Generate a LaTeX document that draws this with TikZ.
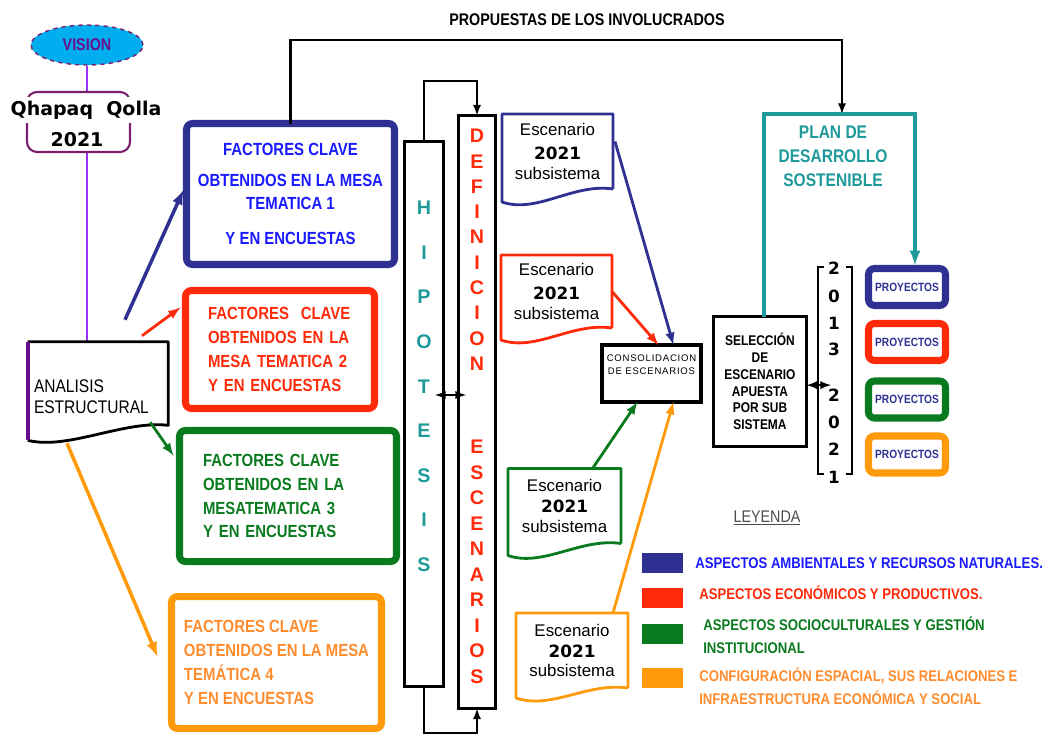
\documentclass[tikz,border=0pt]{standalone}
\usepackage{fontspec}
\setmainfont{Liberation Sans}
\newfontfamily\cond[FakeStretch=0.85]{Liberation Sans}
\newfontfamily\espaciada[LetterSpace=8]{Liberation Sans}
\newfontfamily\dejav{DejaVu Sans}
\usetikzlibrary{shapes.geometric}
\definecolor{azul}{HTML}{2E3192}
\definecolor{azultxt}{HTML}{1A1AFF}
\definecolor{rojo}{HTML}{FF2A0A}
\definecolor{verde}{HTML}{0A7A1E}
\definecolor{naranja}{HTML}{FF9A0A}
\definecolor{naranjatxt}{HTML}{FF8C2E}
\definecolor{turquesa}{HTML}{1E9A9A}
\definecolor{morado}{HTML}{9B30FF}
\definecolor{moradoosc}{HTML}{6A0D8A}
\definecolor{vino}{HTML}{7A1F6E}
\definecolor{gris}{HTML}{4D4D4D}
\tikzset{
  tam/.style 2 args={minimum width=#1*0.25mm, minimum height=#2*0.25mm},
  mesa/.style={draw, line width=5pt, rounded corners=1.5mm, inner sep=0pt, outer sep=0pt,
    font=\cond\bfseries\fontsize{12.5}{17}\selectfont},
  caja/.style={draw, inner sep=0pt, outer sep=0pt},
  esc/.style={inner sep=0pt, outer sep=0pt, align=center, font=\fontsize{12}{14}\selectfont},
  hoja/.style={line width=2pt, line join=round},
  flecha/.style={line width=2pt, -latex},
  linea/.style={line width=1.6pt},
  proy/.style={draw, line width=5pt, rounded corners=1.5mm, tam={77}{37}, inner sep=0pt,
    text=azul, font=\cond\bfseries\fontsize{8.5}{10}\selectfont},
  hipoletra/.style={text=turquesa, font=\bfseries\fontsize{14}{16}\selectfont, inner sep=0pt},
  defiletra/.style={text=rojo, font=\bfseries\fontsize{14}{16}\selectfont, inner sep=0pt},
  digito/.style={font=\dejav\bfseries\fontsize{12}{14}\selectfont, inner sep=0pt},
  leyenda/.style={anchor=west, align=left, inner sep=0pt, font=\cond\bfseries\fontsize{11}{16}\selectfont}
}
\begin{document}
\begin{tikzpicture}[x=0.25mm,y=-0.25mm]
\useasboundingbox (0,0) rectangle (1055,735);

% vision y analisis
\node[ellipse, draw=vino, dashed, line width=1pt, fill=cyan, tam={112}{40}, inner sep=0pt,
  text=moradoosc, font=\cond\bfseries\fontsize{12}{14}\selectfont] (vision) at (87,45) {VISION};
\node[tam={140}{83}, inner sep=0pt] (analisis) at (98,383.5) {};
\draw[morado, line width=1.4pt] (vision.south) -- (vision.south |- analisis.north);
\node[draw=vino, line width=1.5pt, rounded corners=2.5mm, fill=white, tam={103}{60}] (qhapaq) at (78.5,122) {};
\node[fill=white, inner xsep=1pt, inner ysep=3pt, font=\dejav\bfseries\fontsize{13.5}{15}\selectfont] (qhapaq1) at (86,110) {Qhapaq~~Qolla};
\node[fill=white, inner xsep=4pt, inner ysep=1pt, font=\dejav\bfseries\fontsize{13.5}{15}\selectfont] (qhapaq2) at (77,140) {2021};

\draw[hoja] (analisis.north west) -- (analisis.north east) -- (analisis.south east)
  .. controls +(-45,-5) and +(40,10) .. ([shift={(0,15)}]analisis.south west);
\draw[moradoosc, line width=3pt] (analisis.north west) -- ([shift={(0,15)}]analisis.south west);
\node[anchor=west, align=left, inner sep=0pt, font=\cond\fontsize{13}{15}\selectfont] (analisistxt)
  at ([shift={(6,13)}]analisis.west) {ANALISIS\\ESTRUCTURAL};

% mesas tematicas
\node[mesa, draw=azul, text=azultxt, tam={208}{141}, align=center] (mesa1) at (290.5,194)
  {FACTORES CLAVE\\[5pt]OBTENIDOS EN LA MESA\\[-1pt]TEMATICA 1\\[8pt]Y EN ENCUESTAS};
\node[mesa, draw=rojo, text=rojo, tam={189}{118}, align=left, text width=36mm] (mesa2) at (280,349.5)
  {FACTORES~~CLAVE\\OBTENIDOS EN LA\\MESA TEMATICA 2\\Y EN ENCUESTAS};
\node[mesa, draw=verde, text=verde, tam={217}{131}, align=left, text width=42.5mm] (mesa3) at (288,496)
  {FACTORES CLAVE\\OBTENIDOS EN LA\\MESATEMATICA 3\\Y EN ENCUESTAS};
\node[mesa, draw=naranja, text=naranjatxt, tam={210}{132}, align=left] (mesa4) at (276.5,662.5)
  {FACTORES CLAVE\\OBTENIDOS EN LA MESA\\TEMÁTICA 4\\Y EN ENCUESTAS};

\draw[flecha, azul, line width=2.5pt] ([shift={(27,-22)}]analisis.north) -- ([shift={(-3,-4)}]mesa1.west);
\draw[flecha, rojo] ([shift={(44,-6)}]analisis.north) -- ([shift={(-5,17)}]mesa2.north west);
\draw[flecha, verde] ([shift={(-18,-3)}]analisis.south east) -- ([shift={(-6,25)}]mesa3.north west);
\draw[flecha, naranja, line width=2.5pt] ([shift={(-31,18)}]analisis.south) -- ([shift={(-14,-6)}]mesa4.west);

% propuestas
\node[font=\cond\bfseries\fontsize{12}{14}\selectfont] (propuestas) at (587,20) {PROPUESTAS DE LOS INVOLUCRADOS};
\coordinate (propder) at (842,40);
\coordinate (propfin) at (842,114);
\draw[linea, -latex] (mesa1.north) |- (propder) -- (propfin);

% hipotesis y definicion de escenarios
\node[caja, line width=2.2pt, tam={39}{545}] (hipo) at (424,414) {};
\node[caja, line width=2.2pt, tam={37}{593}] (defi) at (477,412) {};
\foreach \l [count=\i from 0] in {H,I,P,O,T,E,S,I,S}
  \node[hipoletra] (h\i) at (424,208+44.6*\i) {\l};
\foreach \l [count=\i from 0] in {D,E,F,I,N,I,C,I,O,N}
  \node[defiletra] (d\i) at (477,136+25.3*\i) {\l};
\foreach \l [count=\i from 0] in {E,S,C,E,N,A,R,I,O,S}
  \node[defiletra] (e\i) at (477,447+25.5*\i) {\l};
\coordinate (buclesup) at (450,81);
\coordinate (bucleinf) at (450,733);
\draw[linea, -latex] (hipo.north) |- (buclesup) -| (defi.north);
\draw[linea, -latex] (hipo.south) |- (bucleinf) -| (defi.south);
\coordinate (dobleizq) at (435,395);
\coordinate (dobleder) at (466,395);
\draw[linea, latex-latex] (dobleizq) -- (dobleder);

% escenarios
\node[esc, tam={111}{75}] (esc1) at (557.5,151.5) {Escenario\\[3pt]{\dejav\bfseries 2021}\\subsistema};
\node[esc, tam={111}{73}] (esc2) at (556.5,291.5) {Escenario\\[3pt]{\dejav\bfseries 2021}\\subsistema};
\node[esc, tam={113}{75}] (esc3) at (564.5,506) {Escenario\\[1pt]{\dejav\bfseries 2021}\\subsistema};
\node[esc, tam={112}{75}] (esc4) at (572,650.5) {Escenario\\[1pt]{\dejav\bfseries 2021}\\subsistema};
\draw[hoja, azul] (esc1.south east) -- (esc1.north east) -- (esc1.north west) -- ([shift={(0,13)}]esc1.south west)
  .. controls +(35,12) and +(-40,-6) .. (esc1.south east);
\draw[hoja, rojo] (esc2.south east) -- (esc2.north east) -- (esc2.north west) -- ([shift={(0,12)}]esc2.south west)
  .. controls +(35,12) and +(-40,-6) .. (esc2.south east);
\draw[hoja, verde] (esc3.south east) -- (esc3.north east) -- (esc3.north west) -- ([shift={(0,12)}]esc3.south west)
  .. controls +(35,12) and +(-40,-6) .. (esc3.south east);
\draw[hoja, naranja] (esc4.south east) -- (esc4.north east) -- (esc4.north west) -- ([shift={(0,10)}]esc4.south west)
  .. controls +(35,12) and +(-40,-6) .. (esc4.south east);

% consolidacion y seleccion
\node[caja, line width=2.8pt, tam={99}{57}] (consol) at (651.5,373.5) {};
\node[align=center, inner sep=0pt, font=\espaciada\fontsize{6.8}{9.5}\selectfont] (consoltxt)
  at ([yshift=2.2mm]consol.center) {CONSOLIDACION\\DE ESCENARIOS};
\draw[flecha, azul] ([shift={(2,-10)}]esc1.east) -- ([shift={(22,0)}]consol.north);
\draw[flecha, rojo] (esc2.east) -- ([shift={(7,0)}]consol.north);
\draw[flecha, verde] ([shift={(28,0)}]esc3.north) -- ([shift={(-14,0)}]consol.south);
\draw[flecha, naranja] ([shift={(41,0)}]esc4.north) -- ([shift={(22,0)}]consol.south);

\node[caja, line width=2.5pt, tam={93}{130}, align=center,
  font=\cond\bfseries\fontsize{10}{12}\selectfont] (selec) at (760,381.5)
  {SELECCIÓN\\DE\\ESCENARIO\\APUESTA\\POR SUB\\SISTEMA};

% horizonte 2013 - 2021
\node[tam={34}{207}, inner sep=0pt] (corchete) at (835,370.5) {};
\draw[line width=1.5pt] ([xshift=1.5mm]corchete.north west) -- (corchete.north west)
  -- (corchete.south west) -- ([xshift=1.5mm]corchete.south west);
\draw[line width=1.5pt] ([xshift=-1.5mm]corchete.north east) -- (corchete.north east)
  -- (corchete.south east) -- ([xshift=-1.5mm]corchete.south east);
\foreach \y/\d [count=\i] in {268/2,296/0,323/1,349/3,395/2,422/0,449/2,477/1}
  \node[digito] (a\i) at (834,\y) {\d};
\coordinate (flechaanio) at (831,378);
\draw[linea, latex-latex] ([yshift=-0.9mm]selec.east) -- ([yshift=-0.9mm]selec.east -| flechaanio);

% plan de desarrollo y proyectos
\node[align=center, text=turquesa, font=\cond\bfseries\fontsize{13}{17}\selectfont] (plan) at (833,156)
  {PLAN DE\\DESARROLLO\\SOSTENIBLE};
\node[proy, draw=azul] (proy1) at (907,287) {PROYECTOS};
\node[proy, draw=rojo] (proy2) at (907,342) {PROYECTOS};
\node[proy, draw=verde] (proy3) at (907,399.5) {PROYECTOS};
\node[proy, draw=naranja] (proy4) at (907,454.5) {PROYECTOS};
\coordinate (plansup) at (915,114);
\draw[turquesa, line width=2.5pt, -latex] ([xshift=1mm]selec.north) |- (plansup) -- (plansup |- proy1.north);

% leyenda
\node[text=gris, font=\cond\fontsize{12}{14}\selectfont] (leyenda) at (767,518) {\underline{LEYENDA}};
\node[fill=azul, tam={41}{20}] (ley1) at (662.5,563) {};
\node[fill=rojo, tam={41}{20}] (ley2) at (662.5,598) {};
\node[fill=verde, tam={41}{20}] (ley3) at (662.5,633.5) {};
\node[fill=naranja, tam={41}{20}] (ley4) at (662.5,677.5) {};
\node[leyenda, text=azultxt] (leyt1) at (695,563) {ASPECTOS AMBIENTALES Y RECURSOS NATURALES.};
\node[leyenda, text=rojo] (leyt2) at (699,593) {ASPECTOS ECONÓMICOS Y PRODUCTIVOS.};
\node[leyenda, text=verde] (leyt3) at (703,635) {ASPECTOS SOCIOCULTURALES Y GESTIÓN\\INSTITUCIONAL};
\node[leyenda, text=naranjatxt] (leyt4) at (699,686) {CONFIGURACIÓN ESPACIAL, SUS RELACIONES E\\INFRAESTRUCTURA ECONÓMICA Y SOCIAL};
\end{tikzpicture}
\end{document}
